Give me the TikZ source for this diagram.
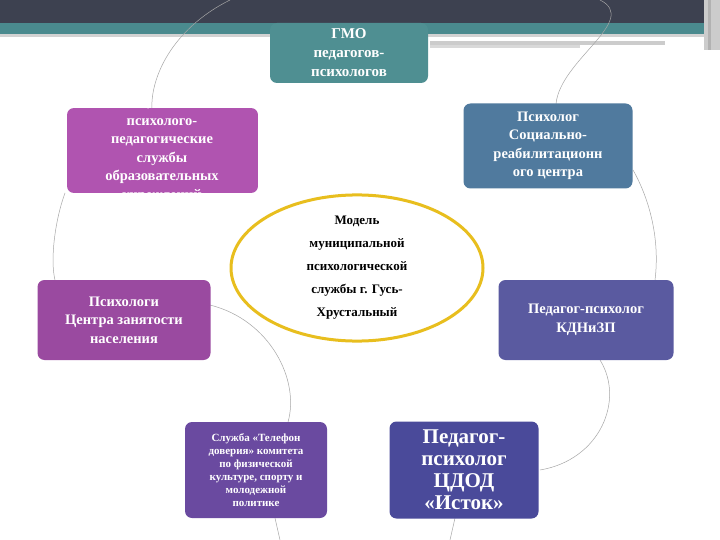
\documentclass[tikz,border=0pt]{standalone}
\usepackage{fontspec}
\setmainfont{Liberation Serif}
\usetikzlibrary{shapes.geometric}
\definecolor{dark}{HTML}{3D4150}
\definecolor{tealb}{HTML}{4A8A8E}
\definecolor{cgmo}{RGB}{79,143,146}
\definecolor{csoc}{RGB}{176,84,176}
\definecolor{creh}{RGB}{80,122,158}
\definecolor{cyel}{RGB}{232,190,30}
\definecolor{cczn}{RGB}{154,74,160}
\definecolor{ckdn}{RGB}{90,90,160}
\definecolor{ctel}{RGB}{106,74,160}
\definecolor{ccdod}{RGB}{74,74,154}
\begin{document}
\begin{tikzpicture}[x=1pt,y=-1pt,
  box/.style={rounded corners=7pt,text=white,align=center,inner sep=2pt},
  arcl/.style={draw=gray!70,line width=0.5pt}]
\useasboundingbox (0,0) rectangle (720,540);
\fill[white] (0,0) rectangle (720,540);
\fill[dark] (0,0) rectangle (720,23);
\fill[tealb] (0,23) rectangle (720,34);
\fill[gray!35] (0,34) rectangle (720,37);
\fill[gray!40] (430,41) rectangle (665,45);
\fill[gray!30] (430,45) rectangle (580,48);
\fill[gray!40] (704,0) rectangle (720,50);
\fill[gray!60] (708,0) rectangle (711,50);
% thin arcs
\draw[arcl] (230,0) .. controls (170,30) and (150,80) .. (152,110);
\draw[arcl] (600,0) .. controls (640,20) and (560,60) .. (556,104);
\draw[arcl] (65,193) .. controls (55,220) and (50,260) .. (55,280);
\draw[arcl] (633,170) .. controls (650,200) and (660,240) .. (655,280);
\draw[arcl] (210,305) .. controls (270,320) and (300,380) .. (288,422);
\draw[arcl] (600,360) .. controls (625,400) and (600,460) .. (540,470);
\draw[arcl] (275,518) -- (280,540);
\draw[arcl] (455,518) -- (450,540);
% boxes
\node[box,fill=cgmo,minimum width=158pt,minimum height=60pt,font=\bfseries\fontsize{15}{19}\selectfont] (gmo) at (349,53) {ГМО\\педагогов-\\психологов};
\begin{scope}
\clip[rounded corners=7pt] (67,108) rectangle (258,193);
\fill[csoc] (67,108) rectangle (258,193);
\node[text=white,font=\bfseries\fontsize{14.5}{18.5}\selectfont,align=center] (soc) at (162,150) {Социально-\\психолого-\\педагогические\\службы\\образовательных\\учреждений};
\end{scope}
\node[box,fill=creh,minimum width=169pt,minimum height=85pt,font=\bfseries\fontsize{14.5}{18.5}\selectfont] (reh) at (548,146) {Психолог\\Социально-\\реабилитационн\\ого центра};
\node[ellipse,draw=cyel,line width=3pt,fill=white,minimum width=252pt,minimum height=112pt,font=\bfseries\fontsize{13}{23}\selectfont,align=center,inner sep=0pt] (model) at (357,268) {Модель\\муниципальной\\психологической\\службы г. Гусь-\\Хрустальный};
\node[box,fill=cczn,minimum width=173pt,minimum height=80pt,font=\bfseries\fontsize{14.5}{18.5}\selectfont] (czn) at (124,320) {Психологи\\Центра занятости\\населения};
\node[box,fill=ckdn,minimum width=175pt,minimum height=80pt,font=\bfseries\fontsize{14.5}{18.5}\selectfont] (kdn) at (586,320) {Педагог-психолог\\КДНиЗП};
\node[box,fill=ctel,minimum width=142pt,minimum height=96pt,font=\bfseries\fontsize{11}{13}\selectfont] (tel) at (256,470) {Служба «Телефон\\доверия» комитета\\по физической\\культуре, спорту и\\молодежной\\политике};
\node[box,fill=ccdod,minimum width=149pt,minimum height=97pt,font=\bfseries\fontsize{21}{22}\selectfont] (cdod) at (464,470) {Педагог-\\психолог\\ЦДОД\\«Исток»};
\end{tikzpicture}
\end{document}
